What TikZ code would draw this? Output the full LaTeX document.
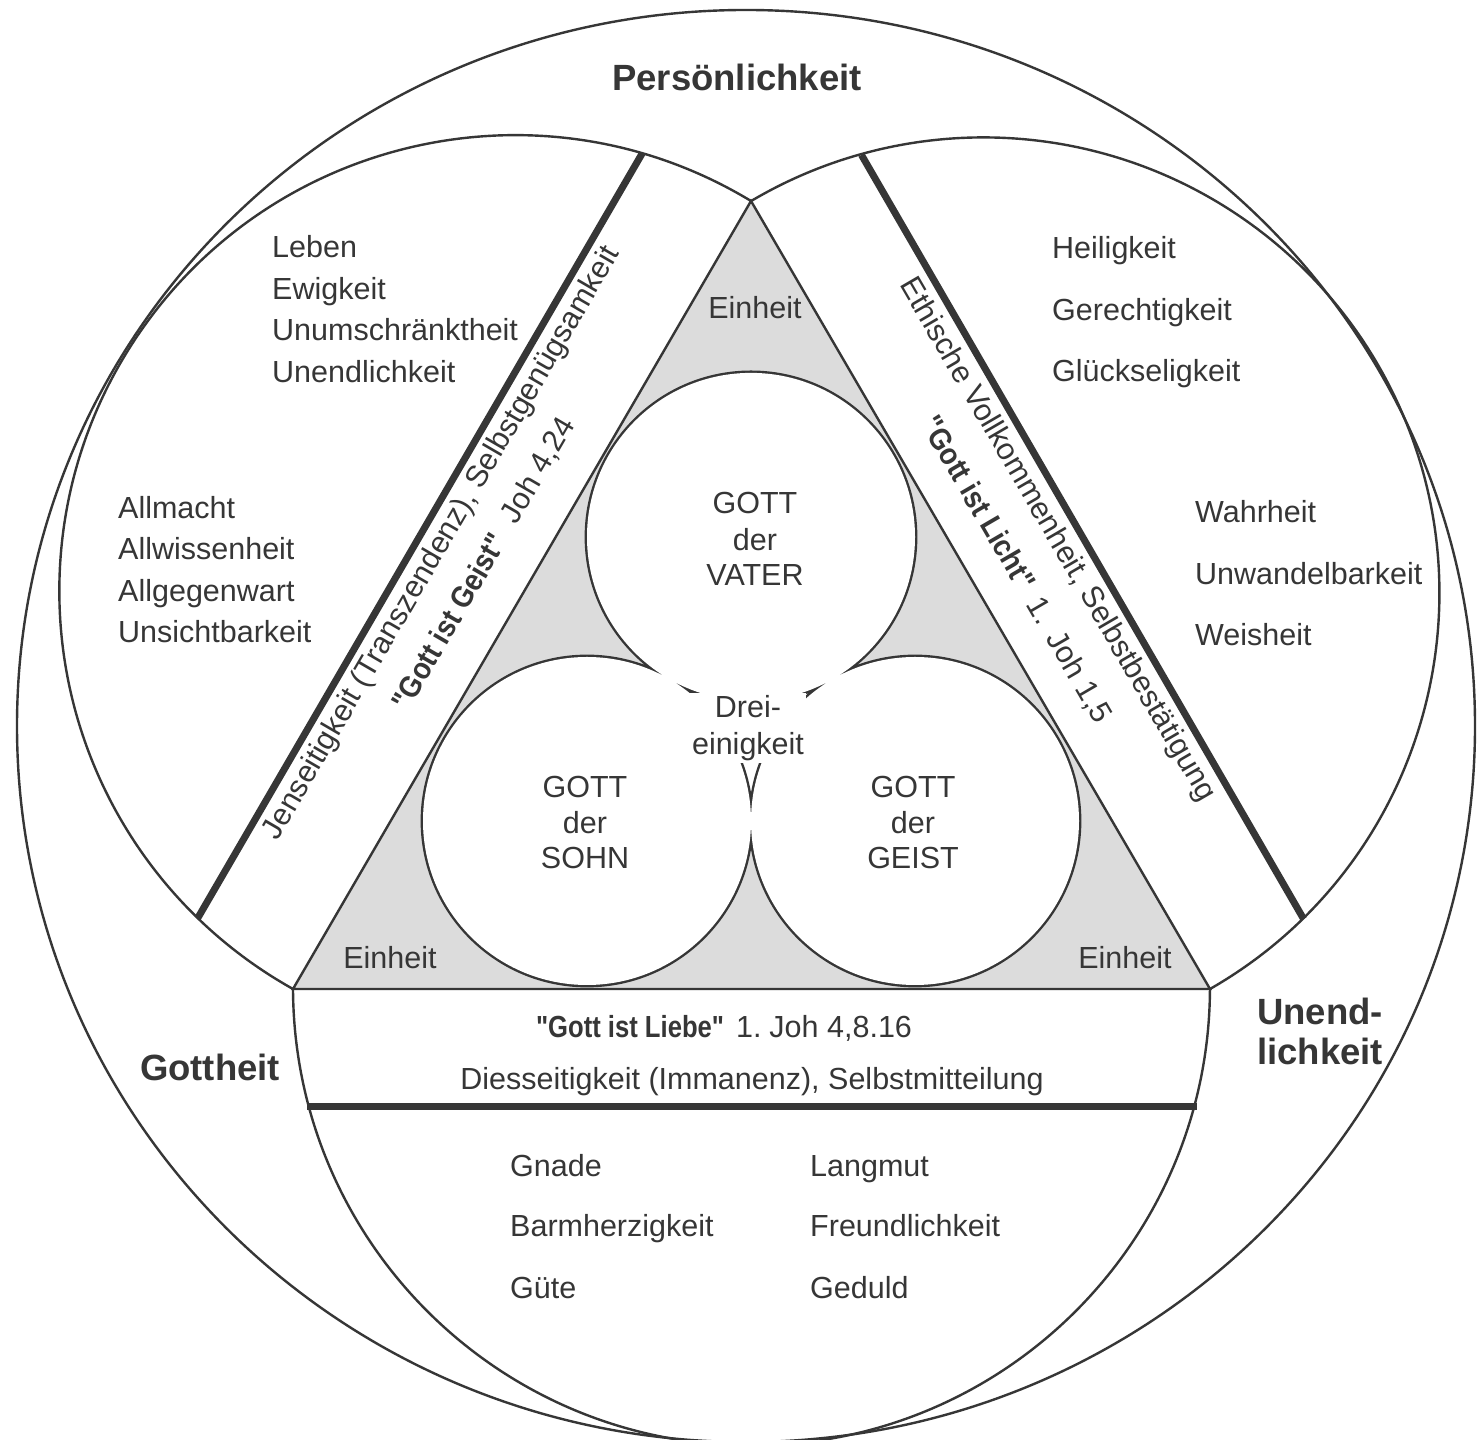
\documentclass[tikz,border=0pt]{standalone}
\usepackage{fontspec}
\setmainfont{Liberation Sans}
\newfontfamily\condbold[FakeStretch=0.84]{Liberation Sans}
\newfontfamily\condboldw[FakeStretch=0.9]{Liberation Sans}
\usetikzlibrary{calc}
\definecolor{ink}{HTML}{363636}
\definecolor{dotgray}{HTML}{DCDCDC}
\tikzset{
  rim/.style={draw=ink, line width=2.4pt},
  bar/.style={draw=ink, line width=7pt},
  txt/.style={text=ink, font=\fontsize{30.5}{36}\selectfont, inner sep=0pt},
  item/.style={txt, anchor=base west},
  mid/.style={txt, anchor=base},
  head/.style={text=ink, font=\fontsize{36.5}{40}\selectfont\bfseries, inner sep=0pt},
  bandtxt/.style={txt, anchor=center},
}
\newcommand{\qb}[1]{{\condbold\bfseries #1}}
\newcommand{\qw}[1]{{\condboldw\bfseries #1}}
\begin{document}
\begin{tikzpicture}[x=1pt,y=1pt]
\useasboundingbox (0,0) rectangle (1483,1440);
\clip (0,0) rectangle (1483,1440);
\fill[white] (0,0) rectangle (1483,1440);
% triangle corners
\coordinate (A) at (751,1239);
\coordinate (B) at (293,451);
\coordinate (C) at (1210,451);
% inner circle centres (mutually tangent, r = 164)
\coordinate (VT) at (751,903.1);
\coordinate (SO) at (587,619);
\coordinate (GE) at (915,619);
% outer ring
\draw[rim] (746,714) ellipse [x radius=729, y radius=716];
% triangle
\fill[dotgray] (A)--(B)--(C)--cycle;
\fill[white] (VT)--(SO)--(GE)--cycle;
\draw[ink, line width=4.8pt] (VT) circle[radius=164] (SO) circle[radius=164] (GE) circle[radius=164];
\fill[white] (VT) circle[radius=164] (SO) circle[radius=164] (GE) circle[radius=164];
\draw[rim, line join=miter] (A)--(B)--(C)--cycle;
% three big arcs
\draw[rim] (A) arc[start angle=58.83, end angle=240.85, radius=455.8];
\draw[rim] (C) arc[start angle=-60.20, end angle=120.80, radius=455.95];
\draw[rim] (B) arc[start angle=180.25, end angle=359.75, radius=458.5];
% thick bars
\coordinate (L1) at (197.7,521.8);
\coordinate (L2) at (642.2,1286.6);
\coordinate (R1) at (1303.6,521);
\coordinate (R2) at (861.5,1285);
\coordinate (U1) at (306.5,333);
\coordinate (U2) at (1196.5,333);
\draw[bar] (L1)--(L2);
\draw[bar] (R1)--(R2);
\draw[bar] (U1)--(U2);
% headings
\node[head, anchor=base] (pers) at (737,1349) {Persönlichkeit};
\node[head, anchor=base] (gott) at (210,359) {Gottheit};
\node[head, anchor=base west] (unend1) at (1257,415) {Unend-};
\node[head, anchor=base west] (unend2) at (1257,375) {lichkeit};
% left lists
\node[item] (le1) at (272,1182) {Leben};
\node[item] (le2) at (272,1140) {Ewigkeit};
\node[item] (le3) at (272,1099) {Unumschränktheit};
\node[item] (le4) at (272,1057) {Unendlichkeit};
\node[item] (al1) at (118,921) {Allmacht};
\node[item] (al2) at (118,880) {Allwissenheit};
\node[item] (al3) at (118,838) {Allgegenwart};
\node[item] (al4) at (118,797) {Unsichtbarkeit};
% right lists
\node[item] (he1) at (1052,1181) {Heiligkeit};
\node[item] (he2) at (1052,1119) {Gerechtigkeit};
\node[item] (he3) at (1052,1058) {Glückseligkeit};
\node[item] (wa1) at (1195,917) {Wahrheit};
\node[item] (wa2) at (1195,855) {Unwandelbarkeit};
\node[item] (wa3) at (1195,794) {Weisheit};
% bottom lists
\node[item] (gn1) at (510,263) {Gnade};
\node[item] (gn2) at (510,203) {Barmherzigkeit};
\node[item] (gn3) at (510,141) {Güte};
\node[item] (la1) at (810,263) {Langmut};
\node[item] (la2) at (810,203) {Freundlichkeit};
\node[item] (la3) at (810,141) {Geduld};
% triangle labels
\node[mid] (ein1) at (755,1121) {Einheit};
\node[mid] (ein2) at (390,471) {Einheit};
\node[mid] (ein3) at (1125,471) {Einheit};
\node[mid] (v1) at (755,926) {GOTT};
\node[mid] (v2) at (755,889) {der};
\node[mid] (v3) at (755,854) {VATER};
\node[mid] (s1) at (585,642) {GOTT};
\node[mid] (s2) at (585,606) {der};
\node[mid] (s3) at (585,571) {SOHN};
\node[mid] (g1) at (913,642) {GOTT};
\node[mid] (g2) at (913,606) {der};
\node[mid] (g3) at (913,571) {GEIST};
\node[txt, fill=white, inner sep=2pt, align=center, font=\fontsize{30.5}{37}\selectfont] (drei) at (748,712) {Drei-\\einigkeit};
% bands
\node[mid] (liebe) at (724,402) {\qb{"Gott ist Liebe"}\hspace{12pt}1.\hspace{8pt}Joh 4,8.16};
\node[mid] (dies) at (752,350) {Diesseitigkeit (Immanenz), Selbstmitteilung};
\node[bandtxt, rotate=59.83] (jens) at (442,896.4) {Jenseitigkeit (Transzendenz), Selbstgenügsamkeit};
\node[bandtxt, rotate=59.83] (geist) at (484,876) {\qw{"Gott ist Geist"}\hspace{18pt}Joh 4,24};
\node[bandtxt, rotate=-59.78] (ethik) at (1057,900) {Ethische Vollkommenheit, Selbstbestätigung};
\node[bandtxt, rotate=-59.78] (licht) at (1016,870) {\qw{"Gott ist Licht"}\hspace{14pt}1.\hspace{14pt}Joh 1,5};
\end{tikzpicture}
\end{document}
